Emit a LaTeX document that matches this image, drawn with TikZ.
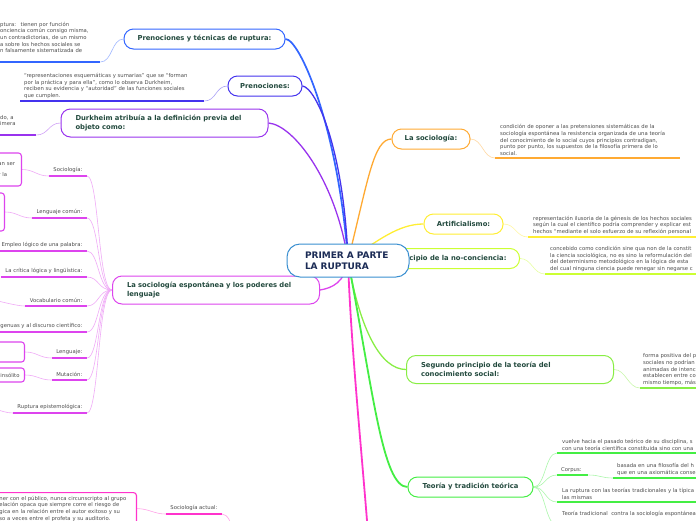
\documentclass[tikz,border=0pt]{standalone}
\usepackage{fontspec}
\setmainfont{DejaVu Sans}
\usepackage{tikz}
\usetikzlibrary{backgrounds}
\definecolor{mmBlue}{HTML}{3366FF}
\definecolor{mmIndigo}{HTML}{4433EE}
\definecolor{mmPurple}{HTML}{9933EE}
\definecolor{mmViolet}{HTML}{DD44EE}
\definecolor{mmPink}{HTML}{FF33CC}
\definecolor{mmOrange}{HTML}{FFAA33}
\definecolor{mmYellow}{HTML}{FFEE33}
\definecolor{mmLime}{HTML}{CCFF33}
\definecolor{mmLeaf}{HTML}{88EE44}
\definecolor{mmGreen}{HTML}{44EE44}
\definecolor{mmRoot}{HTML}{3A8FD0}
\definecolor{mmNavy}{HTML}{1B2B55}
\definecolor{mmDark}{HTML}{234A3E}
\definecolor{mmGray}{HTML}{4D4D4D}
\newcommand{\mmrootfont}{\fontsize{9}{11}\selectfont\bfseries}
\newcommand{\mmtopicfont}{\fontsize{6.8}{9}\selectfont\bfseries}
\newcommand{\mmleaffont}{\fontsize{5.3}{6.6}\selectfont}
\tikzset{
  mmroot/.style={draw=mmRoot,line width=1pt,fill=white,rounded corners=13pt,
                 font=\mmrootfont,text=mmNavy,align=left,text width=86pt,
                 inner xsep=18pt,inner ysep=0pt,minimum height=33pt},
  mmtopic/.style={draw=#1,line width=1pt,fill=white,rounded corners=9.5pt,
                  font=\mmtopicfont,text=mmDark,inner sep=0pt,minimum height=20pt},
  mmtwoline/.style={align=left,text width=178pt,inner xsep=14.5pt,minimum height=28pt},
  mmleaf/.style={font=\mmleaffont,text=mmGray,align=left,anchor=south west,
                 inner xsep=5pt,inner ysep=2.5pt},
  mmlabel/.style={font=\mmleaffont,text=mmGray,anchor=south east,
                  inner xsep=4.5pt,inner ysep=3pt},
  mmsub/.style={draw=#1,line width=1.1pt,fill=white,rounded corners=3pt,
                font=\mmleaffont,text=mmGray,align=left,anchor=east,inner xsep=5pt},
  mmline/.style={draw=#1,line width=1.5pt},
  mmbranch/.style={draw=#1,line width=1.3pt},
  mmtwig/.style={draw=#1!45,line width=0.6pt}
}
\begin{document}
\begin{tikzpicture}[x=1pt,y=-1pt]
  \useasboundingbox (0,0) rectangle (696,520);
  \begin{scope}[on background layer]
    \fill[white] (0,0) rectangle (696,520);
  \end{scope}
  \clip (0,0) rectangle (696,520);

  % main topics
  \node[mmtopic=mmBlue,minimum width=161pt] (pt) at (204.5,39)
    {Prenociones y técnicas de ruptura:};
  \node[mmtopic=mmIndigo,minimum width=74pt] (pn) at (265,86) {Prenociones:};
  \node[mmtopic=mmPurple,mmtwoline] (dk) at (164.5,123)
    {Durkheim atribuía a la definición previa del\\objeto como:};
  \node[mmtopic=mmViolet,mmtwoline] (se) at (216,290)
    {La sociología espontánea y los poderes del\\lenguaje};
  \node[mmtopic=mmOrange,minimum width=78pt] (ls) at (431,139) {La sociología:};
  \node[mmtopic=mmYellow,minimum width=79pt] (ar) at (463.5,224) {Artificialismo:};
  \node[mmtopic=mmLime,anchor=east,inner xsep=13pt] (pp) at (520,258.5)
    {cipio de la no-conciencia:};
  \node[mmtopic=mmLeaf,mmtwoline] (sg) at (510,369.5)
    {Segundo principio de la teoría del\\conocimiento social:};
  \node[mmtopic=mmGreen,minimum width=125pt] (tt) at (470.5,487)
    {Teoría y tradición teórica};
  \node[mmroot] (root) at (348,260.5) {PRIMER A PARTE\\LA RUPTURA};

  % leaf texts
  \node[mmleaf,text width=95pt] (ptc) at (-5,62)
    {ptura:~ tienen por función\\onciencia común consigo misma,\\un contradictorias, de un mismo\\a sobre los hechos sociales se\\n falsamente sistematizada de\\\mbox{}};
  \node[mmleaf,inner xsep=4pt,text width=176pt] (pnc) at (20,101)
    {“representaciones esquemáticas y sumarias” que se “forman\\por la práctica y para ella”, como lo observa Durkheim,\\reciben su evidencia y “autoridad” de las funciones sociales\\que cumplen.};
  \node[mmleaf,text width=31pt] (dkc) at (-5,135) {do, a\\imera\\\mbox{}};
  \node[mmleaf,text width=175pt] (lsc) at (495,158)
    {condición de oponer a las pretensiones sistemáticas de la\\sociología espontánea la resistencia organizada de una teoría\\del conocimiento de lo social cuyos principios contradigan,\\punto por punto, los supuestos de la filosofía primera de lo\\social.};
  \node[mmleaf,text width=250pt] (arc) at (528,237)
    {representación ilusoria de la génesis de los hechos sociales\\según la cual el científico podría comprender y explicar est\\hechos “mediante el solo esfuerzo de su reflexión personal};
  \node[mmleaf,text width=250pt] (ppc) at (545,274)
    {concebido como condición sine qua non de la constit\\la ciencia sociológica, no es sino la reformulación del\\del determinismo metodológico en la lógica de esta\\del cual ninguna ciencia puede renegar sin negarse c};
  \node[mmleaf,inner xsep=3pt,text width=250pt] (sgc) at (640,388)
    {forma positiva del p\\sociales no podrían\\animadas de intenc\\establecen entre co\\mismo tiempo, más};
  \node[mmleaf,text width=250pt] (tta) at (557,453)
    {vuelve hacia el pasado teórico de su disciplina, s\\con una teoría científica constituida sino con una};
  \node[mmleaf,inner xsep=4pt,text width=23pt] (ttb) at (557,475) {Corpus:};
  \node[mmleaf,inner xsep=4pt,text width=250pt] (ttc) at (613,478)
    {basada en una filosofía del h\\que en una axiomática conse};
  \node[mmleaf,text width=250pt] (ttd) at (557,502)
    {La ruptura con las teorías tradicionales y la típica\\las mismas};
  \node[mmleaf,text width=250pt] (tte) at (557,525)
    {Teoría tradicional~ contra la sociología espontánea\\\mbox{}};

  % labels of the language topic
  \foreach \n/\y/\txt in {sesoc/176/Sociología:,selen/218/Lenguaje común:,
      seemp/251/Empleo lógico de una palabra:,secri/277/La crítica lógica y lingüística:,
      sevoc/306/Vocabulario común:,seing/332/genuas y al discurso científico:,
      selang/358/Lenguaje:,semut/380/Mutación:,serup/413/Ruptura epistemológica:}
    \node[mmlabel] (\n) at (87,\y) {\txt};
  \node[mmsub=mmViolet,text width=18pt,inner xsep=5pt,minimum height=33pt] (soc)
    at (22,169.5) {an ser\\[4.4pt]r la};
  \node[mmsub=mmViolet,minimum width=20pt,minimum height=38pt] (len) at (5,212) {};
  \node[mmsub=mmViolet,minimum width=40pt,minimum height=20pt] (lang) at (25,352) {};
  \node[mmsub=mmViolet,text width=19pt,minimum height=14pt] (mut) at (25,375) {insólito};

  % bottom branch
  \node[mmlabel] (soact) at (222,514) {Sociología actual:};
  \node[mmsub=mmPink,anchor=north east,inner xsep=6pt,inner ysep=3.5pt,text width=131pt]
    (soactc) at (137,492)
    {ner con el público, nunca circunscripto al grupo\\elación opaca que siempre corre el riesgo de\\gica en la relación entre el autor exitoso y su\\so a veces entre el profeta y su auditorio.};

  \coordinate (pinkend) at (374,640);
  \coordinate (soactend) at (236,570);
  \coordinate (vocend) at (-25,297);
  \coordinate (rupend) at (-25,404);

  % underlines
  \foreach \n/\col in {ptc/mmBlue,pnc/mmIndigo,dkc/mmPurple,lsc/mmOrange,arc/mmYellow,
      ppc/mmLime,sgc/mmLeaf,tta/mmGreen,ttb/mmGreen,ttc/mmGreen,ttd/mmGreen,
      tte/mmGreen,soact/mmPink}
    \draw[mmline=\col] (\n.south west) -- (\n.south east);
  \foreach \n in {sesoc,selen,seemp,secri,sevoc,seing,selang,semut,serup}
    \draw[mmline=mmViolet] (\n.south west) -- (\n.south east);

  \begin{scope}[on background layer]
    \clip (0,0) rectangle (696,520);
    % branches from the root
    \draw[mmbranch=mmBlue,line width=1.7pt] (root.center) .. controls +(-10,-135) and +(14,0) .. (pt.east);
    \draw[mmbranch=mmIndigo] (root.center) .. controls +(-4,-110) and +(14,2) .. (pn.east);
    \draw[mmbranch=mmPurple] (root.center) .. controls +(-12,-80) and +(25,2) .. (dk.east);
    \draw[mmbranch=mmViolet] (root.center) .. controls +(-3,22) and +(12,-2) .. (se.east);
    \draw[mmbranch=mmPink,line width=1.8pt] (root.center) .. controls +(4,120) and +(-2,-100) .. (pinkend);
    \draw[mmbranch=mmOrange] (root.center) .. controls +(20,-80) and +(-18,0) .. (ls.west);
    \draw[mmbranch=mmYellow] (root.center) .. controls +(30,-20) and +(-25,0) .. (ar.west);
    \draw[mmbranch=mmLime] (root.center) -- (pp.west);
    \draw[mmbranch=mmLeaf] (root.center) .. controls +(12,70) and +(-25,0) .. (sg.west);
    \draw[mmbranch=mmGreen,line width=1.8pt] (root.center) .. controls +(25,130) and +(-25,0) .. (tt.west);
    % twigs
    \draw[mmtwig=mmBlue] (pt.west) .. controls +(-12,0) and +(12,0) .. (ptc.south east);
    \draw[mmtwig=mmIndigo] (pn.west) .. controls +(-12,0) and +(12,0) .. (pnc.south east);
    \draw[mmtwig=mmPurple] (dk.west) .. controls +(-12,0) and +(12,0) .. (dkc.south east);
    \draw[mmtwig=mmOrange] (ls.east) .. controls +(12,0) and +(-12,0) .. (lsc.south west);
    \draw[mmtwig=mmYellow] (ar.east) .. controls +(12,0) and +(-12,0) .. (arc.south west);
    \draw[mmtwig=mmLime] (pp.east) .. controls +(12,0) and +(-12,0) .. (ppc.south west);
    \draw[mmtwig=mmLeaf] (sg.east) .. controls +(12,0) and +(-12,0) .. (sgc.south west);
    \foreach \n in {tta,ttb,ttd,tte}
      \draw[mmtwig=mmGreen] (tt.east) .. controls +(12,0) and +(-12,0) .. (\n.south west);
    \draw[mmtwig=mmGreen] (ttb.south east) .. controls +(12,0) and +(-12,0) .. (ttc.south west);
    \foreach \n in {sesoc,selen,seemp,secri,sevoc,seing,selang,semut,serup}
      \draw[mmtwig=mmViolet] (se.west) .. controls +(-14,0) and +(12,0) .. (\n.south east);
    \draw[mmtwig=mmViolet] (sesoc.south west) .. controls +(-12,0) and +(12,0) .. (soc.east);
    \draw[mmtwig=mmViolet] (selen.south west) .. controls +(-12,0) and +(12,0) .. (len.east);
    \draw[mmtwig=mmViolet] (selang.south west) .. controls +(-12,0) and +(12,0) .. (lang.east);
    \draw[mmtwig=mmViolet] (semut.south west) .. controls +(-12,0) and +(12,0) .. (mut.east);
    \draw[mmtwig=mmViolet] (sevoc.south west) .. controls +(-12,0) and +(12,0) .. (vocend);
    \draw[mmtwig=mmViolet] (serup.south west) .. controls +(-12,0) and +(12,0) .. (rupend);
    \draw[mmtwig=mmPink] (soact.south west) .. controls +(-12,0) and +(12,0) .. (soactc.east);
    \draw[mmtwig=mmPink] (soact.south east) .. controls +(12,0) and +(0,-20) .. (soactend);
  \end{scope}
\end{tikzpicture}
\end{document}
